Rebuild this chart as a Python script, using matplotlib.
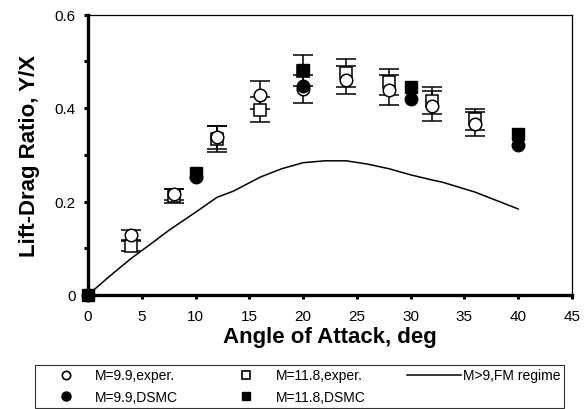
import matplotlib
matplotlib.use("Agg")
import matplotlib.pyplot as plt
from matplotlib.lines import Line2D
from matplotlib.ticker import MultipleLocator, FixedLocator, FixedFormatter

plt.rcParams['font.family'] = ['Liberation Sans', 'DejaVu Sans']

# M=9.9 experiment (open circles)
aoa_exp = [4, 8, 12, 16, 20, 24, 28, 32, 36]
ld_m99_exp = [0.128, 0.215, 0.337, 0.428, 0.440, 0.460, 0.438, 0.405, 0.366]
err_m99_exp = [0.010, 0.012, 0.025, 0.030, 0.030, 0.030, 0.032, 0.032, 0.026]
# M=11.8 experiment (open squares)
ld_m118_exp = [0.105, 0.212, 0.334, 0.396, 0.480, 0.475, 0.455, 0.416, 0.376]
err_m118_exp = [0.010, 0.015, 0.028, 0.027, 0.033, 0.030, 0.028, 0.029, 0.022]
# DSMC
aoa_dsmc = [0, 10, 20, 30, 40]
ld_m99_dsmc = [0.0, 0.252, 0.446, 0.419, 0.320]
ld_m118_dsmc = [0.0, 0.260, 0.481, 0.445, 0.344]
# Free-molecular regime curve
aoa_fm = [0, 2, 4, 6, 7.5, 10, 12, 13.5, 16, 18, 20, 22, 24, 26, 28, 30, 32, 33, 36, 40]
ld_fm = [0.0, 0.040, 0.078, 0.112, 0.138, 0.177, 0.209, 0.222, 0.252, 0.270, 0.283,
         0.287, 0.287, 0.280, 0.270, 0.257, 0.246, 0.241, 0.220, 0.184]

labels = ["M=9.9,exper.", "M=9.9,DSMC", "M=11.8,exper.", "M=11.8,DSMC", "M>9,FM regime"]

fig = plt.figure(figsize=(5.86, 4.10), dpi=100)
ax = fig.add_axes([88/586, 1-296/410, (572-88)/586, (296-15.5)/410])

ax.plot(aoa_fm, ld_fm, color='black', lw=1.1, zorder=2)

ms = 9
ax.errorbar(aoa_exp, ld_m118_exp, yerr=err_m118_exp, fmt='s', ms=ms-1, mfc='white', mec='black',
            mew=1.1, ecolor='black', elinewidth=1.1, capsize=7, capthick=1.4, zorder=3, clip_on=False)
ax.errorbar(aoa_exp, ld_m99_exp, yerr=err_m99_exp, fmt='o', ms=ms, mfc='white', mec='black',
            mew=1.1, ecolor='black', elinewidth=1.1, capsize=7, capthick=1.4, zorder=3, clip_on=False)
ax.plot(aoa_dsmc, ld_m99_dsmc, 'o', ms=ms, color='black', zorder=4, clip_on=False)
ax.plot(aoa_dsmc, ld_m118_dsmc, 's', ms=ms-1, color='black', zorder=4, clip_on=False)

ax.set_xlim(0, 45)
ax.set_ylim(0, 0.6)
ax.xaxis.set_major_locator(MultipleLocator(5))
ax.yaxis.set_major_locator(FixedLocator([0, 0.2, 0.4, 0.6]))
ax.yaxis.set_major_formatter(FixedFormatter(["0", "0.2", "0.4", "0.6"]))
ax.yaxis.set_minor_locator(FixedLocator([0.1, 0.3, 0.5]))
ax.tick_params(axis='both', which='both', direction='out', length=3, width=2.2, labelsize=11, pad=7)
ax.tick_params(axis='y', pad=6)

for s in ['left', 'bottom']:
    ax.spines[s].set_linewidth(2.4)
for s in ['top', 'right']:
    ax.spines[s].set_linewidth(0.9)

ax.set_xlabel("Angle of Attack, deg", fontsize=16, fontweight='bold', labelpad=2)
ax.set_ylabel("Lift-Drag Ratio, Y/X", fontsize=16, fontweight='bold', labelpad=10)

handles = [
    Line2D([], [], marker='o', ls='none', ms=6, mfc='white', mec='black', mew=1.2),
    Line2D([], [], marker='o', ls='none', ms=6.5, color='black'),
    Line2D([], [], marker='s', ls='none', ms=6, mfc='white', mec='black', mew=1.2),
    Line2D([], [], marker='s', ls='none', ms=6, color='black'),
    Line2D([], [], color='black', lw=1.1),
]
leg = fig.legend(handles, labels, ncol=3, loc='upper left', bbox_to_anchor=(35/586, 1-366/410),
                 fontsize=10, frameon=True, fancybox=False, edgecolor='black', borderpad=0.25,
                 handlelength=3.9, handletextpad=0.15, columnspacing=3.0, labelspacing=0.55,
                 borderaxespad=0)
leg.get_frame().set_linewidth(0.8)

fig.savefig("out.png", dpi=100)
